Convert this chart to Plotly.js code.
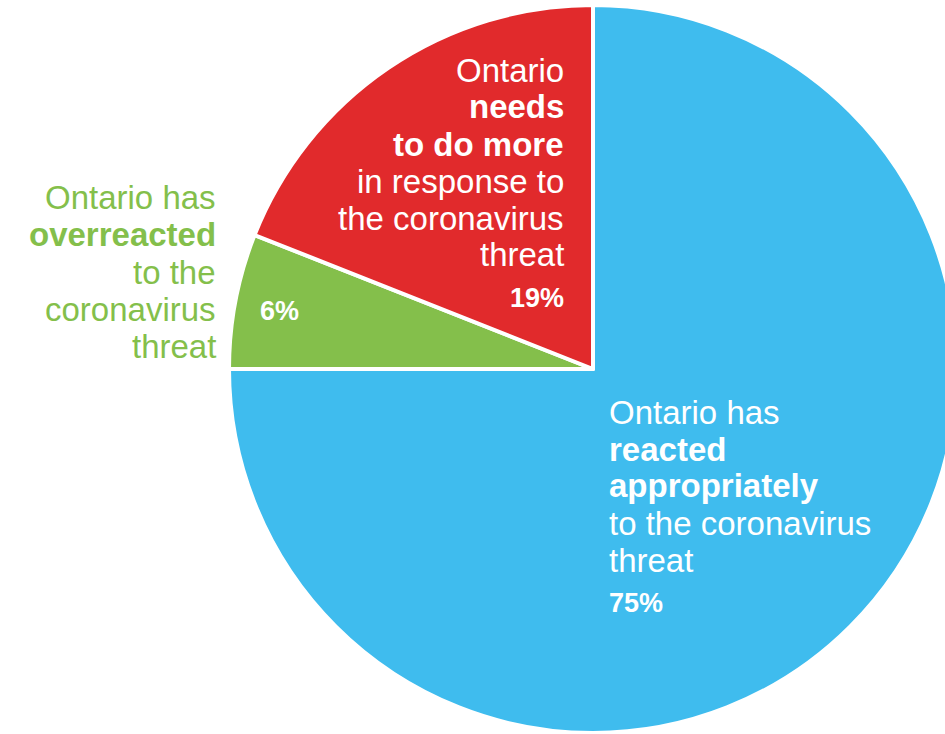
<!DOCTYPE html>
<html>
<head>
<meta charset="utf-8">
<script src="https://cdn.plot.ly/plotly-3.0.1.min.js"></script>
<style>
html, body { margin:0; padding:0; overflow:hidden; background:#fff; width:945px; height:734px; }
#chart { position:absolute; left:0; top:0; }
</style>
</head>
<body>
<div id="chart"></div>
<script>
// ---- data ----
const labels = [
  "Ontario has reacted appropriately to the coronavirus threat",
  "Ontario has overreacted to the coronavirus threat",
  "Ontario needs to do more in response to the coronavirus threat"
];
const values = [75, 6, 19];
const colors = ["#3FBCEE", "#84BF4B", "#E12A2C"];
const blueLines = ["Ontario has", "<b>reacted</b>", "<b>appropriately</b>", "to the coronavirus", "threat"];
const greenLines = ["Ontario has", "<b>overreacted</b>", "to the", "coronavirus", "threat"];
const redLines = ["Ontario", "<b>needs</b>", "<b>to do more</b>", "in response to", "the coronavirus", "threat"];

// ---- layout geometry (pixels) ----
const W = 1190, H = 740;
const cx = 593, cy = 369, R = 364;
const FONT = 'Liberation Sans, Arial, sans-serif';
const px = x => x / W;
const py = y => 1 - y / H;

const annotations = [];
function addLines(lines, x, y0, step, anchor, color) {
  lines.forEach((t, i) => {
    annotations.push({
      xref: 'paper', yref: 'paper', x: px(x), y: py(y0 + i * step),
      xanchor: anchor, yanchor: 'middle', showarrow: false, text: t,
      font: {family: FONT, size: 33, color: color}
    });
  });
}
addLines(redLines, 566, 70, 37, 'right', '#FFFFFF');
addLines(greenLines, 218, 198, 37, 'right', colors[1]);
addLines(blueLines, 607, 412, 37, 'left', '#FFFFFF');

function addPct(v, x, y, anchor) {
  annotations.push({
    xref: 'paper', yref: 'paper', x: px(x), y: py(y), xanchor: anchor, yanchor: 'middle',
    showarrow: false, text: '<b>' + v + '%</b>',
    font: {family: FONT, size: 27, color: '#FFFFFF'}
  });
}
addPct(values[0], 607, 603, 'left');
addPct(values[1], 258, 311, 'left');
addPct(values[2], 566, 298, 'right');

const trace = {
  type: 'pie',
  labels: labels,
  values: values,
  sort: false,
  direction: 'clockwise',
  rotation: 0,
  textinfo: 'none',
  hoverinfo: 'label+percent',
  marker: {colors: colors, line: {color: '#FFFFFF', width: 4}},
  domain: {x: [(cx - R) / W, (cx + R) / W], y: [(H - (cy + R)) / H, (H - (cy - R)) / H]},
  showlegend: false
};

Plotly.newPlot('chart', [trace], {
  width: W, height: H,
  margin: {l: 0, r: 0, t: 0, b: 0, pad: 0},
  paper_bgcolor: '#FFFFFF',
  showlegend: false,
  font: {family: FONT},
  annotations: annotations
}, {displayModeBar: false});
</script>
</body>
</html>
